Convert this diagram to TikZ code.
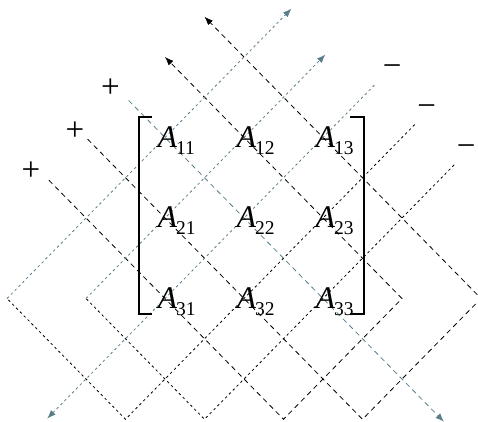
\documentclass[tikz,border=0pt]{standalone}
\usepackage{fontspec}
\setmainfont{Liberation Serif}
\usetikzlibrary{arrows.meta}
\definecolor{slate}{RGB}{90,125,138}
\newcommand\matent[1]{A\rlap{\kern-1pt\raisebox{-7pt}{\fontsize{19.5}{19.5}\selectfont\upshape #1}}}
\begin{document}
\begin{tikzpicture}[x=79pt,y=-80.5pt,
  plusline/.style={line width=0.8pt, dash pattern=on 5pt off 4pt},
  minusline/.style={line width=0.8pt, dash pattern=on 2.5pt off 3pt},
  tip/.style={-{Latex[length=8.5pt,width=6.5pt]}},
  entry/.style={anchor=base, inner sep=0pt, xshift=2.5pt, yshift=-9.8pt, font=\fontsize{31.5}{31.5}\selectfont\itshape},
  sign/.style={anchor=base, inner sep=0pt, yshift=-8.3pt, font=\fontsize{33}{33}\selectfont},
  bracket/.style={line width=1.8pt}]
\path[use as bounding box] (-165pt,137.5pt) rectangle (313pt,-283.5pt);
\clip (-165pt,137.5pt) rectangle (313pt,-283.5pt);
% turning points
\coordinate (p1s) at (-0.46,-0.46);
\coordinate (p1e) at (3.53,3.53);
\coordinate (p2s) at (-0.98,0.02);
\coordinate (v4) at (2.5,3.5);
\coordinate (r2) at (4,2);
\coordinate (p2e) at (0.5,-1.5);
\coordinate (p3s) at (-1.47,0.53);
\coordinate (v3) at (1.5,3.5);
\coordinate (r1) at (3,2);
\coordinate (p3e) at (0,-1);
\coordinate (m1s) at (2.65,-0.65);
\coordinate (m1e) at (-1.49,3.49);
\coordinate (m2s) at (3.16,-0.16);
\coordinate (v1) at (-0.5,3.5);
\coordinate (l1) at (-2,2);
\coordinate (m2e) at (1.6,-1.6);
\coordinate (m3s) at (3.66,0.34);
\coordinate (v2) at (0.5,3.5);
\coordinate (l2) at (-1,2);
\coordinate (m3e) at (2.03,-1.03);
% positive diagonals
\draw[plusline, slate, tip] (p1s) -- (p1e);
\draw[plusline, tip] (p2s) -- (v4) -- (r2) -- (p2e);
\draw[plusline, tip] (p3s) -- (v3) -- (r1) -- (p3e);
% negative diagonals
\draw[minusline, slate, tip] (m1s) -- (m1e);
\draw[minusline] (m2s) -- (v1) -- (l1);
\draw[minusline, slate, tip] (l1) -- (m2e);
\draw[minusline] (m3s) -- (v2) -- (l2);
\draw[minusline, slate, tip] (l2) -- (m3e);
% brackets
\coordinate (lt) at (-0.325,-0.258);
\coordinate (lb) at (-0.325,2.196);
\coordinate (lts) at (-0.168,-0.258);
\coordinate (lbs) at (-0.168,2.196);
\coordinate (rt) at (2.515,-0.258);
\coordinate (rb) at (2.515,2.196);
\coordinate (rts) at (2.346,-0.258);
\coordinate (rbs) at (2.346,2.196);
\draw[bracket] (lts) -- (lt) -- (lb) -- (lbs);
\draw[bracket] (rts) -- (rt) -- (rb) -- (rbs);
% entries
\node[entry] (a11) at (0,0) {\matent{11}};
\node[entry] (a12) at (1,0) {\matent{12}};
\node[entry] (a13) at (2,0) {\matent{13}};
\node[entry] (a21) at (0,1) {\matent{21}};
\node[entry] (a22) at (1,1) {\matent{22}};
\node[entry] (a23) at (2,1) {\matent{23}};
\node[entry] (a31) at (0,2) {\matent{31}};
\node[entry] (a32) at (1,2) {\matent{32}};
\node[entry] (a33) at (2,2) {\matent{33}};
% signs
\node[sign] (plus1) at (-0.692,-0.599) {+};
\node[sign] (plus2) at (-1.139,-0.060) {+};
\node[sign] (plus3) at (-1.696,0.425) {+};
\node[sign] (minus1) at (2.877,-0.860) {−};
\node[sign] (minus2) at (3.313,-0.363) {−};
\node[sign] (minus3) at (3.812,0.134) {−};
\end{tikzpicture}
\end{document}
